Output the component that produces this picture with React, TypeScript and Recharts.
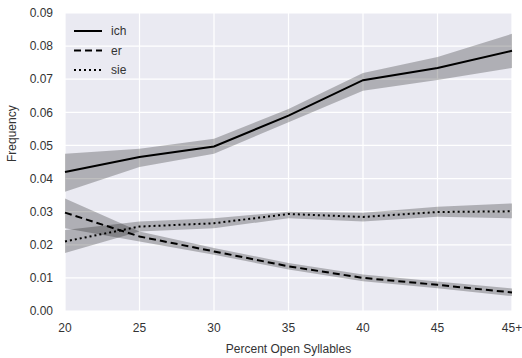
import { ComposedChart, Line, Area, XAxis, YAxis, CartesianGrid } from "recharts";

const categories = ["20", "25", "30", "35", "40", "45", "45+"];

const ich = [0.042, 0.0465, 0.0497, 0.059, 0.0697, 0.0734, 0.0786];
const ichLow = [0.036, 0.0435, 0.0475, 0.057, 0.0665, 0.0698, 0.0734];
const ichHigh = [0.0475, 0.049, 0.052, 0.061, 0.0719, 0.0767, 0.0837];

const er = [0.0297, 0.0225, 0.018, 0.0135, 0.01, 0.0079, 0.0056];
const erLow = [0.025, 0.021, 0.017, 0.0125, 0.009, 0.0069, 0.0045];
const erHigh = [0.034, 0.024, 0.019, 0.0145, 0.011, 0.0089, 0.0068];

const sie = [0.021, 0.0255, 0.0265, 0.0293, 0.0284, 0.0299, 0.0301];
const sieLow = [0.0175, 0.024, 0.025, 0.028, 0.027, 0.0285, 0.028];
const sieHigh = [0.0245, 0.027, 0.028, 0.030, 0.0297, 0.0315, 0.0325];

const yTicks = [0, 0.01, 0.02, 0.03, 0.04, 0.05, 0.06, 0.07, 0.08, 0.09];

const series = [
  { name: "ich", dash: undefined as string | undefined },
  { name: "er", dash: "7 4" },
  { name: "sie", dash: "2 3" },
];

const data = categories.map((c, i) => ({
  x: c,
  ich: ich[i],
  er: er[i],
  sie: sie[i],
  ichBand: [ichLow[i], ichHigh[i]],
  erBand: [erLow[i], erHigh[i]],
  sieBand: [sieLow[i], sieHigh[i]],
}));

const textColor = "#333333";
const font = "'Liberation Sans', Arial, sans-serif";

function LegendBox() {
  return (
    <svg width={80} height={64} style={{ position: "absolute", left: 72, top: 21 }}>
      {series.map((s, i) => (
        <g key={s.name}>
          <line
            x1={2}
            x2={30}
            y1={10 + i * 19.5}
            y2={10 + i * 19.5}
            stroke="#000"
            strokeWidth={2}
            strokeDasharray={s.dash}
          />
          <text x={39} y={14 + i * 19.5} fontSize={12} fill={textColor} fontFamily={font}>
            {s.name}
          </text>
        </g>
      ))}
    </svg>
  );
}

export default function App() {
  return (
    <div style={{ position: "absolute", left: 0, top: 0, width: 522, height: 358, background: "#fff" }}>
      <ComposedChart
        width={522}
        height={358}
        data={data}
        margin={{ top: 13, right: 10, left: 0, bottom: 0 }}
        style={{ fontFamily: font }}
      >
        <CartesianGrid fill="#EAEAF2" stroke="#ffffff" strokeWidth={1.2} />
        <XAxis
          dataKey="x"
          scale="point"
          height={47}
          axisLine={false}
          tickLine={false}
          tick={{ fill: textColor, fontSize: 12 }}
          tickMargin={6}
          interval={0}
          label={{ value: "Percent Open Syllables", position: "insideBottom", offset: 5, fill: textColor, fontSize: 12 }}
        />
        <YAxis
          domain={[0, 0.09]}
          ticks={yTicks}
          width={65}
          axisLine={false}
          tickLine={false}
          tick={{ fill: textColor, fontSize: 12 }}
          tickMargin={6}
          tickFormatter={(v: number) => v.toFixed(2)}
          label={{ value: "Frequency", angle: -90, position: "insideLeft", offset: 12, fill: textColor, fontSize: 12 }}
        />
        <Area dataKey="ichBand" stroke="none" fill="#000" fillOpacity={0.25} isAnimationActive={false} />
        <Area dataKey="erBand" stroke="none" fill="#000" fillOpacity={0.25} isAnimationActive={false} />
        <Area dataKey="sieBand" stroke="none" fill="#000" fillOpacity={0.25} isAnimationActive={false} />
        {series.map((s) => (
          <Line
            key={s.name}
            dataKey={s.name}
            stroke="#000"
            strokeWidth={2}
            strokeDasharray={s.dash}
            dot={false}
            activeDot={false}
            type="linear"
            isAnimationActive={false}
          />
        ))}
      </ComposedChart>
      <LegendBox />
    </div>
  );
}
